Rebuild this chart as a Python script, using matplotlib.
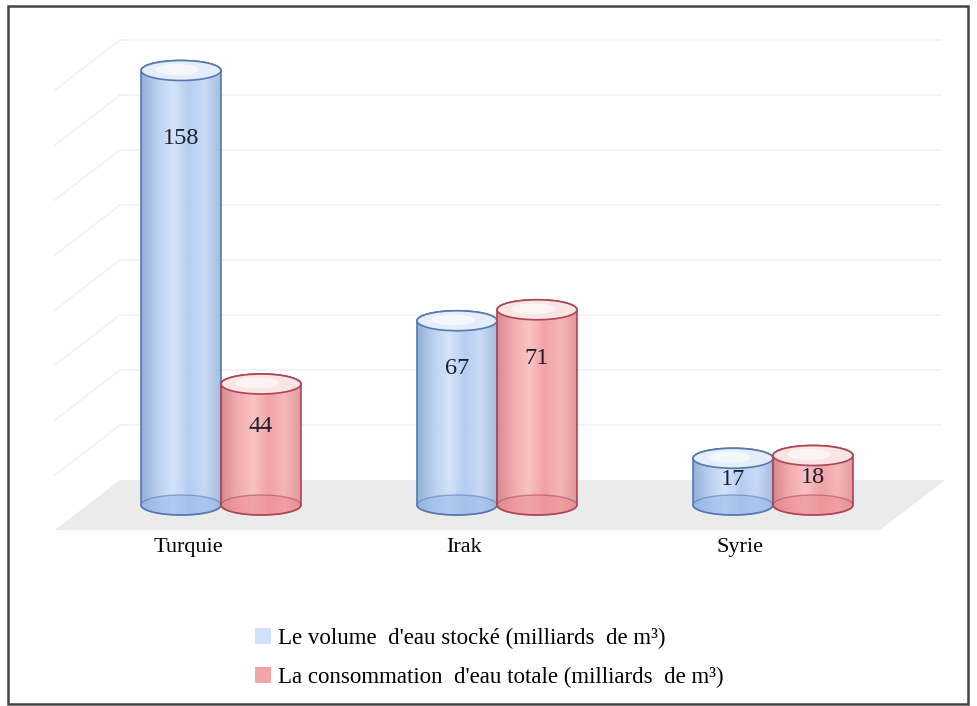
import numpy as np
import matplotlib
matplotlib.use("Agg")
from matplotlib import pyplot as plt
from matplotlib.patches import Polygon, Ellipse, Rectangle, Patch

# data
countries = ["Turquie", "Irak", "Syrie"]
stored = [158, 67, 17]
consumption = [44, 71, 18]
series_labels = ["Le volume  d'eau stocké (milliards  de m³)",
                 "La consommation  d'eau totale (milliards  de m³)"]

plt.rcParams['font.family'] = ['Liberation Serif', 'DejaVu Serif']

# pixel geometry of the fake 3D frame (categories at 0,1,2 ; values in units)
X0_PX, CAT_PX = 221, 276
Y0_PX, UNIT_PX = 505, 2.75
W, H = 978, 706

fig = plt.figure(figsize=(W / 100, H / 100), dpi=100)
ax = fig.add_axes([0, 0, 1, 1])
ax.set_xlim((0 - X0_PX) / CAT_PX, (W - X0_PX) / CAT_PX)
ax.set_ylim((Y0_PX - H) / UNIT_PX, Y0_PX / UNIT_PX)
ax.axis("off")

bar_w = 80 / CAT_PX
ell_h = 20 / UNIT_PX
dx = 32.5 / CAT_PX      # half depth of the floor
dy = 25 / UNIT_PX
left_back = (120 - X0_PX) / CAT_PX
right_back = (945 - X0_PX) / CAT_PX
ymax, step = 160, 20

# floor
floor = Polygon([(left_back - 2 * dx, -dy), (left_back, dy), (right_back, dy),
                 (right_back - 2 * dx, -dy)], closed=True,
                facecolor="#ebebeb", edgecolor="none", zorder=1)
ax.add_patch(floor)

# back wall and side wall grid
for k in range(1, ymax // step + 1):
    yv = dy + k * step
    ax.plot([left_back, right_back - 0.015], [yv, yv], color="#f1f1f1", lw=1.2, zorder=0.5)
    ax.plot([left_back - 2 * dx, left_back], [yv - 2 * dy, yv], color="#f2f2f2", lw=1.2, zorder=0.5)


def rgb(*c):
    return tuple(v / 255 for v in c)


styles = {
    "blue": dict(
        stops=[rgb(140, 170, 212), rgb(180, 205, 240), rgb(208, 226, 250), rgb(176, 202, 240),
               rgb(196, 216, 246), rgb(160, 185, 222)],
        edge=rgb(85, 120, 175), top=rgb(228, 237, 250), bottom=rgb(150, 185, 235)),
    "red": dict(
        stops=[rgb(212, 128, 135), rgb(242, 165, 168), rgb(250, 190, 190), rgb(240, 155, 160),
               rgb(246, 178, 180), rgb(222, 145, 150)],
        edge=rgb(170, 70, 85), top=rgb(250, 228, 228), bottom=rgb(236, 140, 145)),
}


def gradient(stops, n=60):
    stops = np.array(stops)
    pos = np.linspace(0, 1, len(stops))
    t = np.linspace(0, 1, n)
    return np.stack([np.interp(t, pos, stops[:, i]) for i in range(3)], axis=1)


def cylinder(xc, value, st, z):
    r = bar_w / 2
    ry = ell_h / 2
    t1 = np.linspace(np.pi, 2 * np.pi, 60)
    t2 = np.linspace(0, np.pi, 60)
    pts = np.concatenate([
        np.column_stack([xc + r * np.cos(t1), ry * np.sin(t1)]),
        np.column_stack([xc + r * np.cos(t2), value + ry * np.sin(t2)]),
    ])
    body = Polygon(pts, closed=True, facecolor="none", edgecolor="none", zorder=z)
    ax.add_patch(body)
    img = gradient(st["stops"])[np.newaxis, :, :]
    im = ax.imshow(img, extent=[xc - r, xc + r, -ry, value + ry], aspect="auto",
                   interpolation="bilinear", zorder=z, alpha=0.92)
    im.set_clip_path(body)
    # bottom face
    ax.add_patch(Ellipse((xc, 0), bar_w, ell_h, facecolor=st["bottom"], alpha=0.55,
                         edgecolor=st["edge"], lw=1.0, zorder=z + 0.1))
    # silhouette
    ax.add_patch(Polygon(pts, closed=True, facecolor="none", edgecolor=st["edge"],
                         lw=1.2, zorder=z + 0.2))
    # top face
    ax.add_patch(Ellipse((xc, value), bar_w, ell_h, facecolor=st["top"],
                         edgecolor=st["edge"], lw=1.2, zorder=z + 0.3))
    ax.add_patch(Ellipse((xc - r * 0.1, value + ry * 0.1), bar_w * 0.55, ell_h * 0.55,
                         facecolor="white", edgecolor="none", alpha=0.6, zorder=z + 0.35))


half = bar_w / 2
for i, name in enumerate(countries):
    for j, (vals, key) in enumerate([(stored, "blue"), (consumption, "red")]):
        v = vals[i]
        xc = i - half + j * bar_w
        z = 2 + i * 2 + j
        cylinder(xc, v, styles[key], z)
        ly = max(v * 0.92 - 12, v * 0.55)
        ax.text(xc, ly, str(v), ha="center", va="center", fontsize=17.5,
                color="#1e1e30", zorder=z + 0.5)
    ax.text(i - 0.12, -15.6, name, ha="center", va="center", fontsize=16, color="black")

# legend
handles = [Patch(facecolor=styles["blue"]["stops"][2], edgecolor="none"),
           Patch(facecolor=styles["red"]["stops"][1], edgecolor="none")]
fig.legend(handles, series_labels, loc="upper left", bbox_to_anchor=(234 / W, 1 - 607 / H),
           frameon=False, fontsize=16.5, handlelength=0.7, handleheight=0.7,
           handletextpad=0.3, labelspacing=0.8)

# outer border
fig.add_artist(Rectangle((8 / W, 2 / H), 960 / W, 698 / H, transform=fig.transFigure,
                         fill=False, edgecolor="#444444", lw=1.8))

fig.savefig("out.png", dpi=100)
